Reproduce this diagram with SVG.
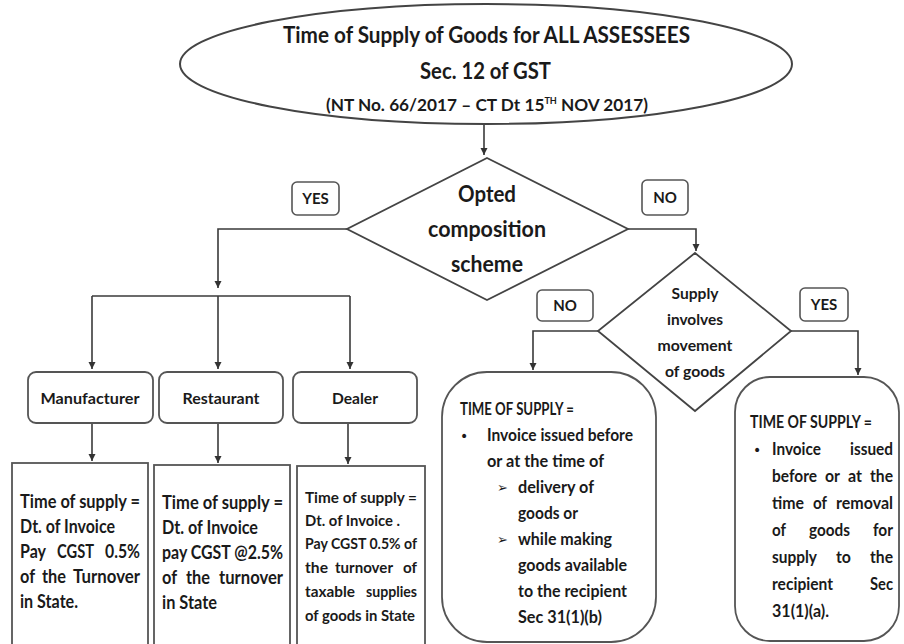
<svg xmlns="http://www.w3.org/2000/svg" width="904" height="644" viewBox="0 0 904 644">
<defs>
<marker id="ah" markerUnits="userSpaceOnUse" markerWidth="8" markerHeight="8" refX="7" refY="4" orient="auto">
<path d="M0,0.5 L7,4 L0,7.5 z" fill="#333" stroke="none"/>
</marker>
</defs>
<style>
.t{font-family:Lato,"Open Sans","Liberation Sans",sans-serif;font-weight:bold;fill:#1a1a1a}
.c{text-anchor:middle}
.ln{fill:none;stroke:#3a3a3a;stroke-width:1.6}
.bx{fill:#fff;stroke:#555;stroke-width:1.8}
.lb{fill:#fff;stroke:#555;stroke-width:1.6}
.sym{font-family:"DejaVu Sans",sans-serif;fill:#1a1a1a}
</style>
<rect width="904" height="644" fill="#fff"/>

<g id="connectors" class="ln">
<path d="M484,125 V155" marker-end="url(#ah)"/>
<path d="M347,229 H218 V288" marker-end="url(#ah)"/>
<path d="M92,296 H350"/>
<path d="M92,296 V369" marker-end="url(#ah)"/>
<path d="M218,296 V369" marker-end="url(#ah)"/>
<path d="M350,296 V369" marker-end="url(#ah)"/>
<path d="M92,423 V461" marker-end="url(#ah)"/>
<path d="M218,423 V463" marker-end="url(#ah)"/>
<path d="M348,423 V464" marker-end="url(#ah)"/>
<path d="M628,229 H696 V251" marker-end="url(#ah)"/>
<path d="M598,331 H533 V370" marker-end="url(#ah)"/>
<path d="M791,331 H858 V375" marker-end="url(#ah)"/>
</g>

<g id="title">
<ellipse cx="486" cy="64" rx="306" ry="60" fill="#fff" stroke="#444" stroke-width="2"/>
<text class="t" x="283" y="43" font-size="23" textLength="407" lengthAdjust="spacingAndGlyphs">Time of Supply of Goods for ALL ASSESSEES</text>
<text class="t" x="420" y="79" font-size="23" textLength="131" lengthAdjust="spacingAndGlyphs">Sec. 12 of GST</text>
<text class="t" x="326" y="111" font-size="17" textLength="322" lengthAdjust="spacingAndGlyphs">(NT No. 66/2017 – CT Dt 15<tspan font-size="9" dy="-7">TH</tspan><tspan dy="7"> NOV 2017)</tspan></text>
</g>

<g id="decision-composition">
<polygon points="487,158 628,229 487,300 347,229" fill="#fff" stroke="#444" stroke-width="1.8"/>
<text class="t c" x="487" y="202" font-size="22" textLength="58" lengthAdjust="spacingAndGlyphs">Opted</text>
<text class="t c" x="487" y="237" font-size="22" textLength="118" lengthAdjust="spacingAndGlyphs">composition</text>
<text class="t c" x="487" y="272" font-size="22" textLength="72" lengthAdjust="spacingAndGlyphs">scheme</text>
</g>

<g id="label-yes-1">
<rect class="lb" x="292" y="182" width="47" height="33" rx="5"/>
<text class="t c" x="315.5" y="204" font-size="15">YES</text>
</g>
<g id="label-no-1">
<rect class="lb" x="642" y="180" width="46" height="35" rx="5"/>
<text class="t c" x="665" y="203" font-size="15">NO</text>
</g>

<g id="decision-movement">
<polygon points="695,253 791,331 695,411 598,331" fill="#fff" stroke="#444" stroke-width="1.8"/>
<text class="t c" x="695" y="299" font-size="16" textLength="47" lengthAdjust="spacingAndGlyphs">Supply</text>
<text class="t c" x="695" y="325" font-size="16" textLength="56" lengthAdjust="spacingAndGlyphs">involves</text>
<text class="t c" x="695" y="351" font-size="16" textLength="75" lengthAdjust="spacingAndGlyphs">movement</text>
<text class="t c" x="695" y="377" font-size="16" textLength="60" lengthAdjust="spacingAndGlyphs">of goods</text>
</g>

<g id="label-no-2">
<rect class="lb" x="537" y="290" width="56" height="31" rx="5"/>
<text class="t c" x="565" y="311" font-size="15">NO</text>
</g>
<g id="label-yes-2">
<rect class="lb" x="800" y="288" width="48" height="33" rx="5"/>
<text class="t c" x="824" y="310" font-size="15">YES</text>
</g>

<g id="manufacturer">
<rect class="bx" x="28" y="372" width="125" height="51" rx="8"/>
<text class="t c" x="90" y="404" font-size="16" textLength="99" lengthAdjust="spacingAndGlyphs">Manufacturer</text>
</g>
<g id="restaurant">
<rect class="bx" x="159" y="372" width="124" height="51" rx="8"/>
<text class="t c" x="221" y="404" font-size="16" textLength="77" lengthAdjust="spacingAndGlyphs">Restaurant</text>
</g>
<g id="dealer">
<rect class="bx" x="293" y="372" width="124" height="51" rx="8"/>
<text class="t c" x="355" y="404" font-size="16" textLength="46" lengthAdjust="spacingAndGlyphs">Dealer</text>
</g>

<g id="manufacturer-rule" font-size="18">
<rect class="bx" x="12" y="463" width="136" height="190"/>
<text class="t" x="20" y="508" textLength="120" lengthAdjust="spacingAndGlyphs">Time of supply =</text>
<text class="t" x="20" y="533" textLength="95" lengthAdjust="spacingAndGlyphs">Dt. of Invoice</text>
<text class="t" x="20" y="558" textLength="26" lengthAdjust="spacingAndGlyphs">Pay</text>
<text class="t" x="57" y="558" textLength="37" lengthAdjust="spacingAndGlyphs">CGST</text>
<text class="t" x="105" y="558" textLength="35" lengthAdjust="spacingAndGlyphs">0.5%</text>
<text class="t" x="20" y="583" textLength="15" lengthAdjust="spacingAndGlyphs">of</text>
<text class="t" x="42" y="583" textLength="24" lengthAdjust="spacingAndGlyphs">the</text>
<text class="t" x="73" y="583" textLength="67" lengthAdjust="spacingAndGlyphs">Turnover</text>
<text class="t" x="20" y="608" textLength="58" lengthAdjust="spacingAndGlyphs">in State.</text>
</g>

<g id="restaurant-rule" font-size="18">
<rect class="bx" x="154" y="465" width="136" height="190"/>
<text class="t" x="162" y="509" textLength="121" lengthAdjust="spacingAndGlyphs">Time of supply =</text>
<text class="t" x="162" y="534" textLength="96" lengthAdjust="spacingAndGlyphs">Dt. of Invoice</text>
<text class="t" x="162" y="559" textLength="121" lengthAdjust="spacingAndGlyphs">pay CGST @2.5%</text>
<text class="t" x="162" y="584" textLength="15" lengthAdjust="spacingAndGlyphs">of</text>
<text class="t" x="186" y="584" textLength="24" lengthAdjust="spacingAndGlyphs">the</text>
<text class="t" x="219" y="584" textLength="64" lengthAdjust="spacingAndGlyphs">turnover</text>
<text class="t" x="162" y="609" textLength="55" lengthAdjust="spacingAndGlyphs">in State</text>
</g>

<g id="dealer-rule" font-size="16">
<rect class="bx" x="297" y="466" width="128" height="190"/>
<text class="t" x="305" y="503" textLength="112" lengthAdjust="spacingAndGlyphs">Time of supply =</text>
<text class="t" x="305" y="526" textLength="95" lengthAdjust="spacingAndGlyphs">Dt. of Invoice .</text>
<text class="t" x="305" y="549" textLength="112" lengthAdjust="spacingAndGlyphs">Pay CGST 0.5% of</text>
<text class="t" x="305" y="573" textLength="23" lengthAdjust="spacingAndGlyphs">the</text>
<text class="t" x="335" y="573" textLength="58" lengthAdjust="spacingAndGlyphs">turnover</text>
<text class="t" x="403" y="573" textLength="14" lengthAdjust="spacingAndGlyphs">of</text>
<text class="t" x="305" y="597" textLength="50" lengthAdjust="spacingAndGlyphs">taxable</text>
<text class="t" x="366" y="597" textLength="51" lengthAdjust="spacingAndGlyphs">supplies</text>
<text class="t" x="305" y="621" textLength="110" lengthAdjust="spacingAndGlyphs">of goods in State</text>
</g>

<g id="no-movement-rule" font-size="16.5">
<rect class="bx" x="442" y="372" width="214" height="270" rx="45"/>
<text class="t" x="460" y="415" textLength="114" lengthAdjust="spacingAndGlyphs">TIME OF SUPPLY =</text>
<text class="sym" x="460" y="441" font-size="14">•</text>
<text class="t" x="487" y="441" textLength="146" lengthAdjust="spacingAndGlyphs">Invoice issued before</text>
<text class="t" x="487" y="467" textLength="117" lengthAdjust="spacingAndGlyphs">or at the time of</text>
<text class="sym" x="497" y="492" font-size="13">➢</text>
<text class="t" x="518" y="493" textLength="76" lengthAdjust="spacingAndGlyphs">delivery of</text>
<text class="t" x="518" y="519" textLength="60" lengthAdjust="spacingAndGlyphs">goods or</text>
<text class="sym" x="497" y="544" font-size="13">➢</text>
<text class="t" x="518" y="545" textLength="94" lengthAdjust="spacingAndGlyphs">while making</text>
<text class="t" x="518" y="571" textLength="109" lengthAdjust="spacingAndGlyphs">goods available</text>
<text class="t" x="518" y="597" textLength="109" lengthAdjust="spacingAndGlyphs">to the recipient</text>
<text class="t" x="518" y="623" textLength="84" lengthAdjust="spacingAndGlyphs">Sec 31(1)(b)</text>
</g>

<g id="movement-rule" font-size="16.5">
<rect class="bx" x="735" y="377" width="164" height="264" rx="35"/>
<text class="t" x="750" y="428" textLength="122" lengthAdjust="spacingAndGlyphs">TIME OF SUPPLY =</text>
<text class="sym" x="753" y="455" font-size="14">•</text>
<text class="t" x="772" y="455" textLength="49" lengthAdjust="spacingAndGlyphs">Invoice</text>
<text class="t" x="850" y="455" textLength="43" lengthAdjust="spacingAndGlyphs">issued</text>
<text class="t" x="772" y="482" textLength="45" lengthAdjust="spacingAndGlyphs">before</text>
<text class="t" x="825" y="482" textLength="15" lengthAdjust="spacingAndGlyphs">or</text>
<text class="t" x="848" y="482" textLength="14" lengthAdjust="spacingAndGlyphs">at</text>
<text class="t" x="870" y="482" textLength="23" lengthAdjust="spacingAndGlyphs">the</text>
<text class="t" x="772" y="509" textLength="32" lengthAdjust="spacingAndGlyphs">time</text>
<text class="t" x="813" y="509" textLength="14" lengthAdjust="spacingAndGlyphs">of</text>
<text class="t" x="836" y="509" textLength="57" lengthAdjust="spacingAndGlyphs">removal</text>
<text class="t" x="772" y="536" textLength="14" lengthAdjust="spacingAndGlyphs">of</text>
<text class="t" x="809" y="536" textLength="41" lengthAdjust="spacingAndGlyphs">goods</text>
<text class="t" x="873" y="536" textLength="20" lengthAdjust="spacingAndGlyphs">for</text>
<text class="t" x="772" y="563" textLength="45" lengthAdjust="spacingAndGlyphs">supply</text>
<text class="t" x="836" y="563" textLength="15" lengthAdjust="spacingAndGlyphs">to</text>
<text class="t" x="870" y="563" textLength="23" lengthAdjust="spacingAndGlyphs">the</text>
<text class="t" x="772" y="590" textLength="61" lengthAdjust="spacingAndGlyphs">recipient</text>
<text class="t" x="870" y="590" textLength="23" lengthAdjust="spacingAndGlyphs">Sec</text>
<text class="t" x="772" y="617" textLength="57" lengthAdjust="spacingAndGlyphs">31(1)(a).</text>
</g>
</svg>
